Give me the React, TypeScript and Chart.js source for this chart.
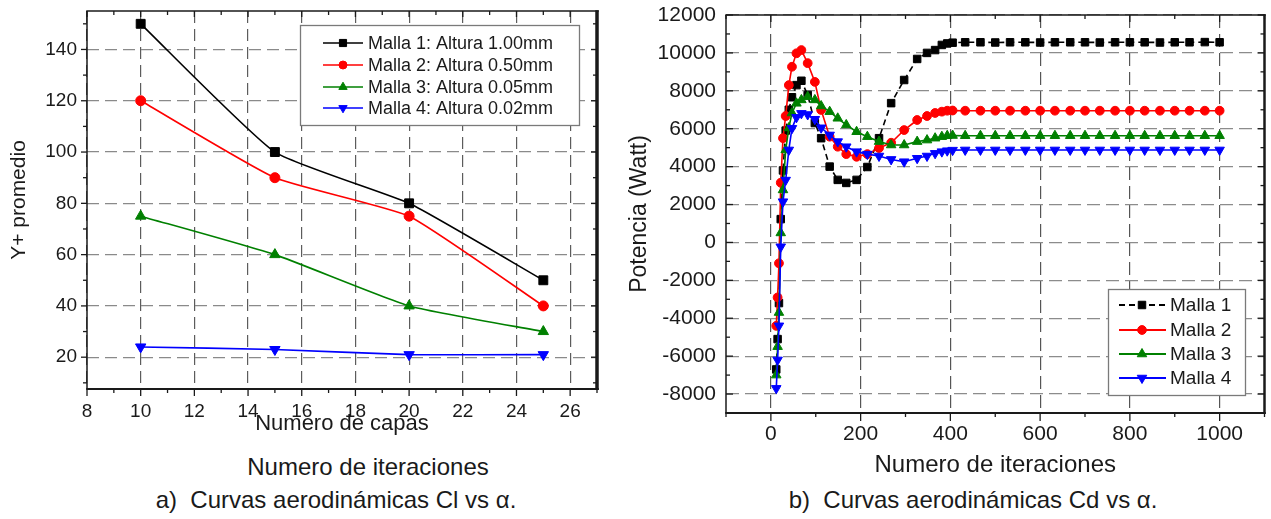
import React, { useEffect, useRef } from "react";
import { Chart, registerables } from "chart.js";

Chart.register(...registerables);

const FONT = "'Liberation Sans', Arial, sans-serif";
const TEXT = "#1a1a1a";

// ---------- Chart a) data ----------
const capas = [10, 15, 20, 25];
const yPlusMalla1 = [150, 100, 80, 50];
const yPlusMalla2 = [120, 90, 75, 40];
const yPlusMalla3 = [75, 60, 40, 30];
const yPlusMalla4 = [24, 23, 21, 21];
const labelsA = [
  "Malla 1: Altura 1.00mm",
  "Malla 2: Altura 0.50mm",
  "Malla 3: Altura 0.05mm",
  "Malla 4: Altura 0.02mm",
];
const capasTicks = [8, 10, 12, 14, 16, 18, 20, 22, 24, 26];
const yPlusTicks = [20, 40, 60, 80, 100, 120, 140];

// ---------- Chart b) data ----------
const iteraciones = [
  12, 15, 18, 22, 27, 33, 40, 47, 57, 68, 82, 98, 112, 131, 149, 168, 191, 215,
  241, 268, 297, 326, 348, 366, 381, 393, 405, 433, 467, 500, 533, 567, 600,
  633, 667, 700, 733, 767, 800, 833, 867, 900, 933, 967, 1000,
];
const potMalla1 = [
  -6700, -5100, -3200, 1230, 3800, 5900, 7000, 7660, 8300, 8530, 7780, 6300,
  5500, 4000, 3300, 3140, 3300, 3980, 5500, 7350, 8570, 9680, 10000, 10150,
  10420, 10500, 10540, 10560, 10560, 10550, 10560, 10560, 10550, 10560, 10560,
  10560, 10550, 10560, 10560, 10560, 10550, 10560, 10560, 10570, 10560,
];
const potMalla2 = [
  -4400, -2900, -1100, 3150, 5500, 6670, 8300, 9270, 9980, 10150, 9460, 8470,
  6990, 5580, 5050, 4660, 4520, 4660, 4980, 5260, 5930, 6460, 6670, 6830, 6900,
  6950, 6960, 6950, 6950, 6950, 6950, 6950, 6950, 6950, 6950, 6950, 6950, 6950,
  6950, 6950, 6950, 6950, 6950, 6950, 6950,
];
const potMalla3 = [
  -7000, -5500, -3700, 500, 2770, 4880, 6040, 6830, 7340, 7520, 7690, 7520,
  7200, 6900, 6550, 6200, 5840, 5580, 5320, 5140, 5140, 5320, 5400, 5500, 5580,
  5630, 5640, 5630, 5630, 5630, 5630, 5630, 5630, 5630, 5630, 5630, 5630, 5630,
  5630, 5630, 5630, 5630, 5630, 5630, 5630,
];
const potMalla4 = [
  -7700, -6200, -4400, -230, 2150, 3290, 4880, 6020, 6600, 6810, 6750, 6500,
  6050, 5670, 5320, 5050, 4790, 4660, 4560, 4380, 4260, 4440, 4560, 4700, 4790,
  4840, 4870, 4880, 4880, 4880, 4880, 4880, 4880, 4880, 4880, 4880, 4880, 4880,
  4880, 4880, 4880, 4880, 4880, 4880, 4880,
];
const labelsB = ["Malla 1", "Malla 2", "Malla 3", "Malla 4"];
const iterTicks = [0, 200, 400, 600, 800, 1000];
const potTicks = [
  -8000, -6000, -4000, -2000, 0, 2000, 4000, 6000, 8000, 10000, 12000,
];

// ---------- helpers ----------
function drawMarker(ctx: CanvasRenderingContext2D, style: string, r: number, rot: number, x: number, y: number, color: string) {
  ctx.save();
  ctx.fillStyle = color;
  ctx.strokeStyle = color;
  ctx.lineWidth = 1;
  ctx.setLineDash([]);
  ctx.beginPath();
  if (style === "rect") {
    const s = r * Math.SQRT1_2;
    ctx.rect(x - s, y - s, 2 * s, 2 * s);
  } else if (style === "circle") {
    ctx.arc(x, y, r, 0, Math.PI * 2);
  } else {
    const a0 = (rot * Math.PI) / 180;
    for (let k = 0; k < 3; k++) {
      const ang = a0 + (k * 2 * Math.PI) / 3;
      const px = x + Math.sin(ang) * r;
      const py = y - Math.cos(ang) * r;
      if (k === 0) ctx.moveTo(px, py);
      else ctx.lineTo(px, py);
    }
    ctx.closePath();
  }
  ctx.fill();
  ctx.stroke();
  ctx.restore();
}

function minorOf(maj: number[], min: number, max: number) {
  const step = maj[1] - maj[0];
  let first = maj[0] - step / 2;
  while (first - step >= min - 1e-9) first -= step;
  const out: number[] = [];
  for (let v = first; v <= max + 1e-9; v += step) if (v >= min - 1e-9) out.push(v);
  return out;
}

type Side = { maj: [number, number]; min: [number, number] };
type FrameCfg = { top: Side; bottom: Side; left: Side; right: Side; widths: { t: number; b: number; l: number; r: number } };

function makeFrame(cfg: FrameCfg) {
  return {
    id: "frame",
    afterDraw(chart: any) {
      const { ctx, chartArea: a, scales } = chart;
      const xs = scales.x;
      const ys = scales.y;
      ctx.save();
      ctx.strokeStyle = "#1a1a1a";
      ctx.setLineDash([]);
      const line = (x1: number, y1: number, x2: number, y2: number, w: number) => {
        ctx.lineWidth = w;
        ctx.beginPath();
        ctx.moveTo(x1, y1);
        ctx.lineTo(x2, y2);
        ctx.stroke();
      };
      const xMaj = xs.ticks.map((t: any) => t.value);
      const yMaj = ys.ticks.map((t: any) => t.value);
      const xMin = minorOf(xMaj, xs.min, xs.max);
      const yMin = minorOf(yMaj, ys.min, ys.max);
      const tw = 1.3;
      const drawX = (vals: number[], kind: "maj" | "min") => {
        vals.forEach((v) => {
          const px = xs.getPixelForValue(v);
          const b = cfg.bottom[kind];
          line(px, a.bottom + b[0], px, a.bottom - b[1], tw);
          const t = cfg.top[kind];
          line(px, a.top - t[0], px, a.top + t[1], tw);
        });
      };
      const drawY = (vals: number[], kind: "maj" | "min") => {
        vals.forEach((v) => {
          const py = ys.getPixelForValue(v);
          const l = cfg.left[kind];
          line(a.left - l[0], py, a.left + l[1], py, tw);
          const r = cfg.right[kind];
          line(a.right + r[0], py, a.right - r[1], py, tw);
        });
      };
      drawX(xMaj, "maj");
      drawX(xMin, "min");
      drawY(yMaj, "maj");
      drawY(yMin, "min");
      const w = cfg.widths;
      line(a.left - w.l / 2, a.top, a.right + w.r / 2, a.top, w.t);
      line(a.left - w.l / 2, a.bottom, a.right + w.r / 2, a.bottom, w.b);
      line(a.left, a.top, a.left, a.bottom, w.l);
      line(a.right, a.top - w.t / 2, a.right, a.bottom + w.b / 2, w.r);
      ctx.restore();
    },
  };
}

type LegendCfg = { box: [number, number, number, number]; rows: number[]; line: [number, number]; markerX: number; textX: number; font: string; markerScale: number; lineWidth: number };

function makeLegend(cfg: LegendCfg) {
  return {
    id: "boxLegend",
    afterDatasetsDraw(chart: any) {
      const ctx = chart.ctx as CanvasRenderingContext2D;
      ctx.save();
      const [x0, y0, x1, y1] = cfg.box;
      ctx.fillStyle = "#ffffff";
      ctx.fillRect(x0, y0, x1 - x0, y1 - y0);
      ctx.strokeStyle = "#7a7a7a";
      ctx.lineWidth = 1.3;
      ctx.strokeRect(x0 + 0.5, y0 + 0.5, x1 - x0, y1 - y0);
      chart.data.datasets.forEach((ds: any, i: number) => {
        const y = cfg.rows[i];
        ctx.strokeStyle = ds.borderColor;
        ctx.lineWidth = cfg.lineWidth;
        ctx.setLineDash(ds.borderDash || []);
        ctx.beginPath();
        ctx.moveTo(cfg.line[0], y);
        ctx.lineTo(cfg.line[1], y);
        ctx.stroke();
        ctx.setLineDash([]);
        drawMarker(ctx, ds.pointStyle, ds.pointRadius * cfg.markerScale, ds.pointRotation || 0, cfg.markerX, y, ds.borderColor);
        ctx.fillStyle = TEXT;
        ctx.font = cfg.font;
        ctx.textBaseline = "middle";
        ctx.textAlign = "left";
        ctx.fillText(ds.label, cfg.textX, y + 1);
      });
      ctx.restore();
    },
  };
}

const styles = [
  { color: "#000000", style: "rect", rot: 0 },
  { color: "#ff0000", style: "circle", rot: 0 },
  { color: "#008000", style: "triangle", rot: 0 },
  { color: "#0000ff", style: "triangle", rot: 180 },
];

const noPadX = (h: number) => (s: any) => {
  s.height = h;
  s.paddingLeft = 0;
  s.paddingRight = 0;
};
const noPadY = (w: number) => (s: any) => {
  s.width = w;
  s.paddingTop = 0;
  s.paddingBottom = 0;
};

// ---------- configs ----------
function configA(): any {
  const series = [yPlusMalla1, yPlusMalla2, yPlusMalla3, yPlusMalla4];
  const radii = [6.3, 5, 6, 6];
  const datasets = series.map((ys, i) => ({
    label: labelsA[i],
    data: capas.map((x, j) => ({ x, y: ys[j] })),
    borderColor: styles[i].color,
    backgroundColor: styles[i].color,
    pointStyle: styles[i].style,
    pointRotation: styles[i].rot,
    pointRadius: radii[i],
    pointBorderWidth: 1,
    borderWidth: 1.6,
    tension: 0.15,
    order: 4 - i,
  }));
  return {
    type: "line",
    data: { datasets },
    options: {
      responsive: false,
      animation: false,
      layout: { padding: { left: 0, top: 11, right: 23, bottom: 0 } },
      plugins: { legend: { display: false }, tooltip: { enabled: false } },
      scales: {
        x: {
          type: "linear",
          min: 8,
          max: 27,
          afterBuildTicks: (s: any) => {
            s.ticks = capasTicks.map((v) => ({ value: v }));
          },
          afterFit: noPadX(48),
          ticks: { padding: 11, color: TEXT, font: { family: FONT, size: 19 }, callback: (v: any) => String(v), autoSkip: false, maxRotation: 0 },
          grid: { color: "#5c5c5c", lineWidth: 1.2, drawTicks: false },
          border: { display: false, dash: [12, 6] },
          title: { display: true, text: "Numero de capas", color: TEXT, font: { family: FONT, size: 22 }, padding: { top: 0, bottom: 0 } },
        },
        y: {
          type: "linear",
          min: 7.6,
          max: 155,
          afterBuildTicks: (s: any) => {
            s.ticks = yPlusTicks.map((v) => ({ value: v }));
          },
          afterFit: noPadY(87),
          ticks: { padding: 10, color: TEXT, font: { family: FONT, size: 19 }, callback: (v: any) => String(v), autoSkip: false },
          grid: { color: "#8a8a8a", lineWidth: 1.2, drawTicks: false },
          border: { display: false, dash: [12, 6] },
          title: { display: true, text: "Y+ promedio", color: TEXT, font: { family: FONT, size: 21 }, padding: { top: 7, bottom: 0 } },
        },
      },
    },
    plugins: [
      makeFrame({
        top: { maj: [0, 6], min: [0, 4] },
        bottom: { maj: [7, 0], min: [4, 0] },
        left: { maj: [6, 0], min: [4, 0] },
        right: { maj: [0, 6], min: [0, 4] },
        widths: { t: 1.5, b: 2, l: 1.5, r: 3.5 },
      }),
      makeLegend({
        box: [300, 25, 579, 125],
        rows: [43, 65, 87, 108],
        line: [323, 363],
        markerX: 343,
        textX: 368,
        font: `18px ${FONT}`,
        markerScale: 0.8,
        lineWidth: 1.6,
      }),
    ],
  };
}

function configB(): any {
  const series = [potMalla1, potMalla2, potMalla3, potMalla4];
  const radii = [5.3, 4.4, 5.5, 5.5];
  const datasets = series.map((ys, i) => ({
    label: labelsB[i],
    data: iteraciones.map((x, j) => ({ x, y: ys[j] })),
    borderColor: styles[i].color,
    backgroundColor: styles[i].color,
    pointStyle: styles[i].style,
    pointRotation: styles[i].rot,
    pointRadius: radii[i],
    pointBorderWidth: 1,
    borderWidth: 1.6,
    borderDash: i === 0 ? [6, 4] : [],
    tension: 0,
    order: 4 - i,
  }));
  return {
    type: "line",
    data: { datasets },
    options: {
      responsive: false,
      animation: false,
      layout: { padding: { left: 0, top: 15, right: 4, bottom: 0 } },
      plugins: { legend: { display: false }, tooltip: { enabled: false } },
      scales: {
        x: {
          type: "linear",
          min: -100,
          max: 1100,
          afterBuildTicks: (s: any) => {
            s.ticks = iterTicks.map((v) => ({ value: v }));
          },
          afterFit: noPadX(67),
          ticks: { padding: 9, color: TEXT, font: { family: FONT, size: 21 }, callback: (v: any) => String(v), autoSkip: false, maxRotation: 0 },
          grid: { color: "#555555", lineWidth: 1.2, drawTicks: false },
          border: { display: false, dash: [13, 6] },
          title: { display: true, text: "Numero de iteraciones", color: TEXT, font: { family: FONT, size: 24 }, padding: { top: 0, bottom: 0 } },
        },
        y: {
          type: "linear",
          min: -9000,
          max: 12000,
          afterBuildTicks: (s: any) => {
            s.ticks = potTicks.map((v) => ({ value: v }));
          },
          afterFit: noPadY(106),
          ticks: { padding: 10, color: TEXT, font: { family: FONT, size: 21 }, callback: (v: any) => String(v), autoSkip: false },
          grid: { color: "#8c8c8c", lineWidth: 1.2, drawTicks: false },
          border: { display: false, dash: [13, 6] },
          title: { display: true, text: "Potencia (Watt)", color: TEXT, font: { family: FONT, size: 23 }, padding: { top: 6, bottom: 0 } },
        },
      },
    },
    plugins: [
      makeFrame({
        top: { maj: [0, 7], min: [0, 4] },
        bottom: { maj: [8, 0], min: [4, 0] },
        left: { maj: [0, 7], min: [0, 4] },
        right: { maj: [0, 7], min: [0, 4] },
        widths: { t: 1.5, b: 2, l: 1.5, r: 2.5 },
      }),
      makeLegend({
        box: [488, 289, 625, 395],
        rows: [305, 330, 354, 378],
        line: [499, 546],
        markerX: 522,
        textX: 550,
        font: `19px ${FONT}`,
        markerScale: 1,
        lineWidth: 2,
      }),
    ],
  };
}

function ChartCanvas({ make, left, width, height }: { make: () => any; left: number; width: number; height: number }) {
  const ref = useRef<HTMLCanvasElement>(null);
  useEffect(() => {
    const chart = new Chart(ref.current as HTMLCanvasElement, make());
    return () => chart.destroy();
  }, []);
  return (
    <canvas
      ref={ref}
      width={width}
      height={height}
      style={{ position: "absolute", left, top: 0, width, height, display: "block" }}
    />
  );
}

function Label({ text, cx, cy, size }: { text: string; cx: number; cy: number; size: number }) {
  return (
    <div
      style={{
        position: "absolute",
        left: cx,
        top: cy,
        transform: "translate(-50%, -50%)",
        whiteSpace: "pre",
        fontFamily: FONT,
        fontSize: size,
        color: TEXT,
        lineHeight: 1,
      }}
    >
      {text}
    </div>
  );
}

export default function App() {
  return (
    <div
      style={{
        position: "fixed",
        left: 0,
        top: 0,
        width: 1271,
        height: 519,
        background: "#ffffff",
        overflow: "hidden",
      }}
    >
      <ChartCanvas make={configA} left={0} width={620} height={437} />
      <ChartCanvas make={configB} left={620} width={651} height={480} />
      <Label text="Numero de iteraciones" cx={368} cy={467} size={24} />
      <Label text="a)  Curvas aerodinámicas Cl vs α." cx={336} cy={500} size={24} />
      <Label text="b)  Curvas aerodinámicas Cd vs α." cx={973} cy={500} size={24} />
    </div>
  );
}
